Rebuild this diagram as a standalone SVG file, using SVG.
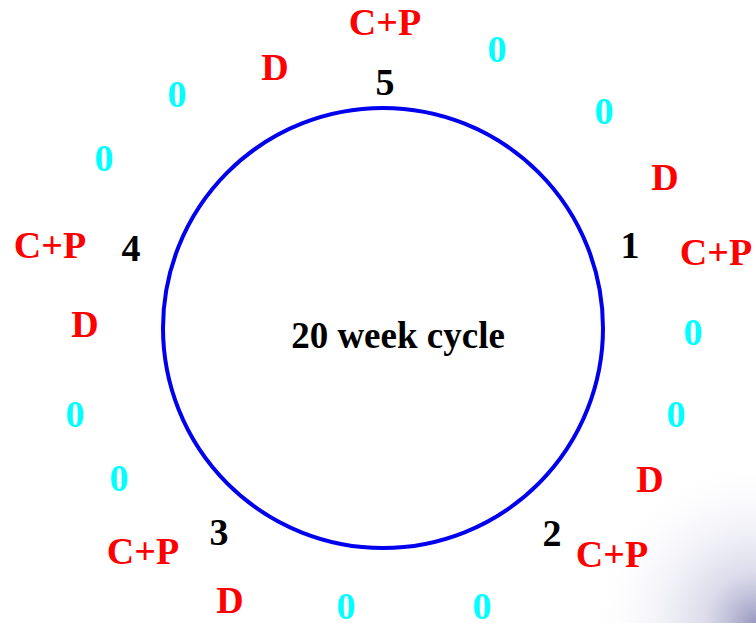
<svg xmlns="http://www.w3.org/2000/svg" width="756" height="623" viewBox="0 0 756 623">
<defs>
<radialGradient id="corner" cx="756" cy="623" r="170" gradientUnits="userSpaceOnUse">
<stop offset="0" stop-color="#8c8cb8" stop-opacity="0.9"/>
<stop offset="0.3" stop-color="#c4c4de" stop-opacity="0.6"/>
<stop offset="0.7" stop-color="#ececf6" stop-opacity="0.3"/>
<stop offset="1" stop-color="#ffffff" stop-opacity="0"/>
</radialGradient>
<style>
text{font-family:"Liberation Serif","Times New Roman",serif;font-weight:bold;font-size:38px;text-anchor:middle}
.r{fill:#ff0000}
.c{fill:#00ffff}
.k{fill:#000000}
</style>
</defs>
<rect width="756" height="623" fill="#ffffff"/>
<rect x="556" y="423" width="200" height="200" fill="url(#corner)"/>
<g id="cycle">
<circle cx="383" cy="328" r="220" fill="none" stroke="#0000ee" stroke-width="4"/>
<text class="k" x="398" y="348" style="font-size:37px">20 week cycle</text>
</g>
<g id="labels">
<text class="r" x="385" y="35">C+P</text>
<text class="k" x="385" y="95">5</text>
<text class="c" x="497" y="62">0</text>
<text class="r" x="275" y="80">D</text>
<text class="c" x="177" y="107">0</text>
<text class="c" x="104" y="171">0</text>
<text class="c" x="604" y="124">0</text>
<text class="r" x="665" y="190">D</text>
<text class="k" x="630" y="258">1</text>
<text class="r" x="716" y="265">C+P</text>
<text class="r" x="50" y="258">C+P</text>
<text class="k" x="131" y="261">4</text>
<text class="r" x="85" y="337">D</text>
<text class="c" x="693" y="345">0</text>
<text class="c" x="676" y="427">0</text>
<text class="c" x="75" y="427">0</text>
<text class="c" x="119" y="491">0</text>
<text class="r" x="650" y="492">D</text>
<text class="k" x="552" y="546">2</text>
<text class="r" x="612" y="567">C+P</text>
<text class="k" x="219" y="545">3</text>
<text class="r" x="143" y="564">C+P</text>
<text class="r" x="230" y="613">D</text>
<text class="c" x="346" y="619">0</text>
<text class="c" x="482" y="619">0</text>
</g>
</svg>
